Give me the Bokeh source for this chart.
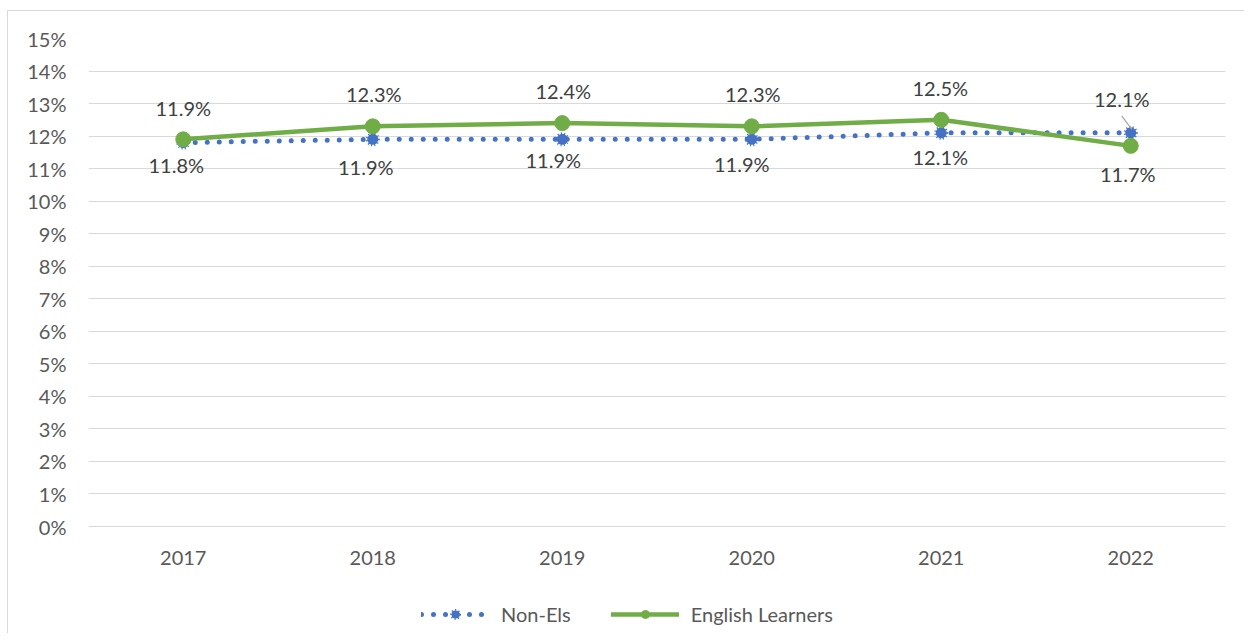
from bokeh.plotting import figure
from bokeh.models import (ColumnDataSource, FixedTicker, PrintfTickFormatter, Range1d,
                          Legend, LegendItem)
from bokeh.core.properties import value
from bokeh.embed import file_html
from bokeh.resources import INLINE

years = [2017, 2018, 2019, 2020, 2021, 2022]
non_els = [11.8, 11.9, 11.9, 11.9, 12.1, 12.1]
english_learners = [11.9, 12.3, 12.4, 12.3, 12.5, 11.7]
y_ticks = list(range(0, 16))
year_labels = [str(y) for y in years]

BLUE = "#4472C4"
GREEN = "#70AD47"
FONT = "Lato"

# layout (pixels): plotting band 488px tall for 0..15 %, plus 107px below it
# for category labels and legend, all inside the frame
PX_PER_UNIT = 488 / 15
BELOW_PX = 107
y_start = -BELOW_PX / PX_PER_UNIT

p = figure(frame_width=1137, frame_height=488 + BELOW_PX, output_backend="svg",
           toolbar_location=None,
           x_range=Range1d(2016.5, 2022.5), y_range=Range1d(y_start, 15),
           min_border_left=80, min_border_right=19, min_border_top=27, min_border_bottom=0,
           margin=(10, 0, 0, 7))
p.styles = {"border-left": "1px solid #d9d9d9", "border-top": "1px solid #d9d9d9"}
p.outline_line_color = None
p.background_fill_color = "white"
p.border_fill_color = "white"

# axes
p.xaxis.visible = False
p.yaxis.ticker = FixedTicker(ticks=y_ticks)
p.yaxis.formatter = PrintfTickFormatter(format="%d%%")
ax = p.yaxis[0]
ax.axis_line_color = None
ax.major_tick_line_color = None
ax.minor_tick_line_color = None
ax.major_tick_out = 0
ax.major_label_text_font = FONT
ax.major_label_text_font_size = "20px"
ax.major_label_text_color = "#595959"
p.yaxis.major_label_standoff = 22
p.xgrid.grid_line_color = None
p.ygrid.ticker = FixedTicker(ticks=y_ticks)
p.ygrid.grid_line_color = "#d9d9d9"
p.ygrid.grid_line_width = 1

# category labels under the 0% line
p.text(x=years, y=[y_ticks[0]] * len(years), text=year_labels, y_offset=31,
       text_align="center", text_baseline="middle", text_font=value(FONT),
       text_font_size="20px", text_color="#595959")

src_n = ColumnDataSource(dict(x=years, y=non_els))
src_e = ColumnDataSource(dict(x=years, y=english_learners))

ln = p.line("x", "y", source=src_n, line_color=BLUE, line_width=5,
            line_dash="0 12", line_cap="round")
sn = p.scatter("x", "y", source=src_n, marker="circle", size=11, fill_color=BLUE,
               line_color=BLUE, line_width=3, line_dash="1 2")
le = p.line("x", "y", source=src_e, line_color=GREEN, line_width=4.5, line_cap="round")
se = p.scatter("x", "y", source=src_e, marker="circle", size=15, fill_color=GREEN,
               line_color=GREEN)

# data labels
def fmt(v):
    return f"{v:.1f}%"

n_off = [22, 28, 21, 25, 24, -34]
e_off = [-31, -32, -32, -32, -32, 28]
n_xoff = [-7, -7, -9, -10, -1, -9]
e_xoff = [0, 1, 1, 1, -1, -3]
lab = ColumnDataSource(dict(
    x=years + years,
    y=non_els + english_learners,
    text=[fmt(v) for v in non_els] + [fmt(v) for v in english_learners],
    yo=n_off + e_off,
    xo=n_xoff + e_xoff,
))
p.text("x", "y", text="text", source=lab, x_offset="xo", y_offset="yo",
       text_align="center", text_baseline="middle", text_font=value(FONT),
       text_font_size="20px", text_color="#404040")

# leader line for last Non-Els label
lx, ly = years[-1], non_els[-1]
p.segment(x0=[lx - 9 / 189.5], y0=[ly + 17 / PX_PER_UNIT], x1=[lx + 1 / 189.5],
          y1=[ly + 3.5 / PX_PER_UNIT], line_color="#a6a6a6", line_width=1.2)

legend = Legend(items=[LegendItem(label="Non-Els", renderers=[ln, sn]),
                       LegendItem(label="English Learners", renderers=[le, se])],
                orientation="horizontal", location=(333, 7))
legend.border_line_color = None
legend.background_fill_alpha = 0
legend.label_text_font = FONT
legend.label_text_font_size = "20px"
legend.label_text_color = "#595959"
legend.glyph_width = 68
legend.glyph_height = 20
legend.label_standoff = 12
legend.spacing = 40
legend.margin = 0
legend.padding = 4
p.add_layout(legend)

open("out.html", "w").write(file_html(p, INLINE))
